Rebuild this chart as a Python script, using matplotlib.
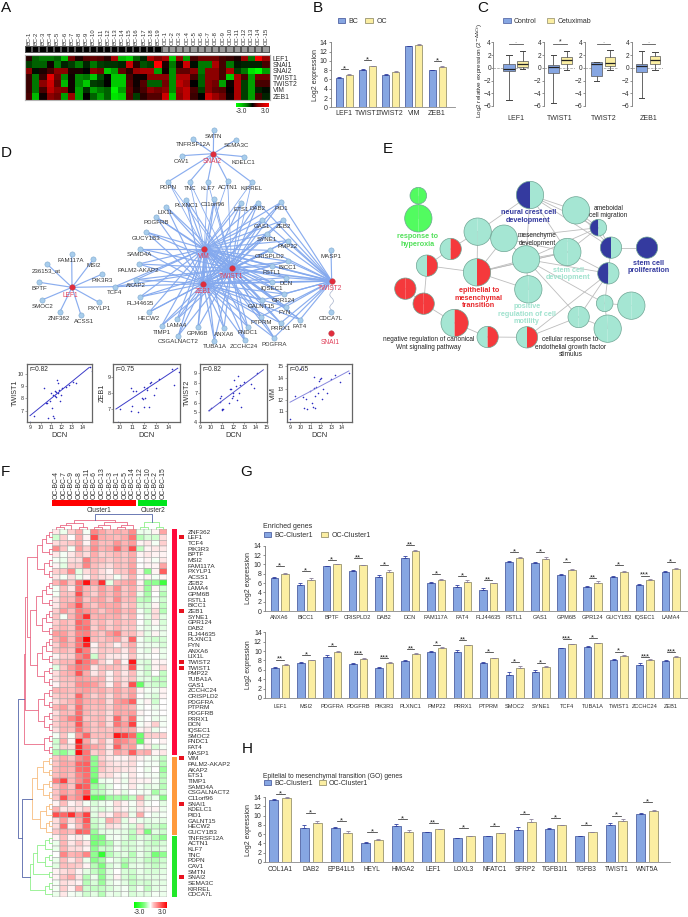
import numpy as np
import matplotlib
matplotlib.use("Agg")
import matplotlib.pyplot as plt
from matplotlib.colors import LinearSegmentedColormap
from matplotlib.patches import Patch, Wedge, Circle, Rectangle

plt.rcParams['font.family'] = ['Liberation Sans', 'DejaVu Sans']
plt.rcParams['axes.linewidth'] = 0.6
W, H = 688, 917
fig = plt.figure(figsize=(W/100, H/100), dpi=100)
ov = fig.add_axes([0, 0, 1, 1], zorder=5)
ov.set_xlim(0, W); ov.set_ylim(H, 0); ov.axis('off'); ov.patch.set_alpha(0)

def axpx(x0, y0, x1, y1, **kw):
    return fig.add_axes([x0/W, 1-y1/H, (x1-x0)/W, (y1-y0)/H], **kw)

TXT = '#2e2e2e'
BLUE, BLUE_E = '#86a6e2', '#46589c'
YEL, YEL_E = '#fbeea2', '#8f8a66'

# ---------- A ----------
a_genes = ['LEF1', 'SNAI1', 'SNAI2', 'TWIST1', 'TWIST2', 'VIM', 'ZEB1']
a_cols = [f'BC-{i}' for i in range(1, 20)] + [f'OC-{i}' for i in range(1, 16)]
a_lef1 = [.3,-.8,-1,-1,-.8,-1.8,.8,.2,.6,.7,.6,.3,1.4,-1.8,-2.2,-.8,-.3,1.5,.9, 1.4,-2,1.2,-1.5,.5,.8,.8,.8,.5,.4,.2,1.2,-1,2.8,1.2]
a_snai1 = [-.5,-.8,-.8,.1,-1,-.3,-.5,-1,-.3,-1,-.5,-.4,-.4,-.3,2,.3,-.7,-.5,3, .2,-1,.2,2,-.1,-1,-1,1.5,.5,-1,-.2,-.3,-.3,-.3,.5]
a_snai2 = [1,-.1,.2,.5,1,1,.2,.2,0,1,.8,-2,-1.5,.7,.3,1.2,1.5,1.5,-1.5, .1,-1.3,.7,.7,1,-1,1,1,.5,1.5,-.5,-1,-2.5,-3,-1.5]
a_twist1 = [.4,-1,.4,2.5,.8,-1.2,.1,-1.2,-1,-2,-.6,0,-2,-2,.5,.1,.1,1,1, 1,-1.3,1.5,1.5,.5,-.8,1,1,.5,-2,1.5,.5,-1.5,.8,.8]
a_twist2 = [.4,-1,1,2,.7,-1.8,.1,-1.2,-2,-.5,-.4,0,-2,-2,.6,.1,.6,-.8,-.8, .8,-1.3,1.8,1.2,0,-.8,1,.8,-1.5,.1,1.5,-.5,-1.5,.5,.5]
a_vim = [.4,-1,.5,1.8,1,.9,.1,-1.5,-.4,-1.5,-1,-.8,-2.8,-1.5,.7,.2,.5,1,.8, 1,-1.3,1.2,1.8,.5,-.5,1,.7,.6,0,1.5,-.5,-1.5,-.3,-.1]
a_zeb1 = [.5,-1.8,.1,1,.8,-1.5,1.2,-1.5,0,-.8,-1.5,-.8,-2.5,-2.2,.6,-.5,.3,.6,.6, 2,-2,1,1.8,.4,0,2,1.2,.8,.1,1.5,-.5,-1.5,.5,-.3]
a_vals = np.array([a_lef1, a_snai1, a_snai2, a_twist1, a_twist2, a_vim, a_zeb1])
a_group = [0]*19 + [1]*15

def nodes(stops):
    return LinearSegmentedColormap.from_list('m', [((v+3)/6, c) for v, c in stops])
gbr = nodes([(-3, '#00ff00'), (-2, '#00c800'), (-1, '#007800'), (0, '#000000'), (1, '#8c0000'), (2, '#cc0000'), (3, '#ff0000')])
gwr = nodes([(-3, '#00ff00'), (-2, '#40ff40'), (-1, '#90ff90'), (-.5, '#d0ffd0'), (0, '#ffffff'), (.5, '#ffc4c4'), (1, '#ff9c9c'), (2, '#ff5050'), (3, '#ff0000')])

ax = axpx(25, 55, 269.5, 99.5)
m = ax.pcolormesh(a_vals, cmap=gbr, vmin=-3, vmax=3, edgecolors='none')
ax.invert_yaxis()
ax.set_xticks([]); ax.yaxis.tick_right()
ax.set_yticks(np.arange(7)+.5, a_genes, fontsize=4.9, color=TXT)
ax.tick_params(axis='y', length=0, pad=2.2)
for s in ax.spines.values(): s.set_color('#b5b5b5'); s.set_linewidth(.8)
ax = axpx(25, 46, 269.5, 52.5)
ax.pcolormesh([a_group], cmap=LinearSegmentedColormap.from_list('k', ['#000000', '#9c9c9c']),
              edgecolors='#555555', linewidth=.15)
ax.xaxis.tick_top(); ax.set_yticks([])
ax.set_xticks(np.arange(34)+.5, a_cols, rotation=90, fontsize=4.2, color=TXT)
ax.tick_params(axis='x', length=0, pad=1)
for s in ax.spines.values(): s.set_visible(False)
cax = axpx(236, 102.5, 269, 107)
cb = fig.colorbar(m, cax=cax, orientation='horizontal'); cb.set_ticks([]); cb.outline.set_visible(False)
ov.text(241.5, 111.3, '-3.0', fontsize=4.8, ha='center', va='center', color=TXT)
ov.text(265, 111.3, '3.0', fontsize=4.8, ha='center', va='center', color=TXT)

# ---------- bar helper ----------
def bars(genes, bc, oc, ebc, eoc, sig, stars, xl, xr, y14, y0, start, step, bw, off,
         ylabel, ylx, lab_fs, tick_fs=5, names=('BC', 'OC'), pad=3.5, yl_fs=5, extra=1.2):
    u = (y0-y14)/14
    ytop = y14-extra*u
    ax = axpx(xl, ytop, xr, y0)
    ax.patch.set_alpha(0)
    ax.set_xlim((xl-start)/step, (xr-start)/step)
    ax.set_ylim(0, 14+extra)
    x = np.arange(len(genes))
    w, o = bw/step, off/step
    ax.bar(x-o, bc, w, color=BLUE, edgecolor=BLUE_E, linewidth=.55, label=names[0])
    ax.bar(x+o, oc, w, color=YEL, edgecolor=YEL_E, linewidth=.55, label=names[1])
    ax.errorbar(x-o, bc, yerr=[np.zeros(len(bc)), ebc], fmt='none', ecolor='#2f3f9f', elinewidth=.5, capsize=1.3, capthick=.6)
    ax.errorbar(x+o, oc, yerr=[np.zeros(len(oc)), eoc], fmt='none', ecolor='#8a8098', elinewidth=.5, capsize=1.3, capthick=.6)
    for i, (s, t) in enumerate(zip(sig, stars)):
        ax.plot([i-.15, i+.15], [s, s], color='#333333', lw=.55, clip_on=False)
        ax.text(i, s+.05, t, ha='center', va='center', fontsize=5.5, color='#222222', clip_on=False)
    ax.set_xticks(x, genes, fontsize=lab_fs, color=TXT)
    ax.set_yticks(range(0, 15, 2))
    ax.tick_params(axis='x', length=0, pad=pad)
    ax.tick_params(axis='y', length=1.5, width=.5, labelsize=tick_fs, pad=1, labelcolor=TXT, color='#666666')
    for s in ('top', 'right'): ax.spines[s].set_visible(False)
    ax.spines['left'].set_bounds(0, 14)
    ax.spines['left'].set_color('#777777'); ax.spines['bottom'].set_color('#888888')
    ov.text(ylx, (y0+y14)/2, ylabel, rotation=90, fontsize=yl_fs, ha='center', va='center', color=TXT)
    return ax

def legend(ax, x, y, fs, hl, ht=.75, tp=.5, cs=1.0):
    ax.legend(loc='lower left', bbox_to_anchor=(x, y), bbox_transform=ov.transData, ncol=2,
              frameon=False, fontsize=fs, handlelength=hl, handleheight=ht, handletextpad=tp,
              columnspacing=cs, borderpad=0, borderaxespad=0, labelcolor=TXT)

# ---------- B ----------
b_genes = ['LEF1', 'TWIST1', 'TWIST2', 'VIM', 'ZEB1']
b_bc = [6.4, 8.1, 7.0, 13.1, 8.0]
b_oc = [7.0, 8.9, 7.7, 13.5, 8.7]
b_ebc = [.12, .15, .15, .12, .12]
b_eoc = [.1, .1, .15, .15, .12]
b_sig = [8.2, 10.1, np.nan, np.nan, 9.9]
b_star = ['*', '*', '', '', '*']
ax = bars(b_genes, b_bc, b_oc, b_ebc, b_eoc, b_sig, b_star, 331, 454.5, 42.3, 107.3, 344.3, 23.2, 7, 5,
          'Log2 expression', 320.0-4.5, 5, 5)
legend(ax, 338, 25, 5, 1.05)
ax.xaxis.set_tick_params(pad=2.2)

# ---------- C ----------
c_genes = ['LEF1', 'TWIST1', 'TWIST2', 'ZEB1']
c_ctrl = [(-5, -.55, -.15, .6, 2), (-5.5, -.85, .05, .45, 2), (-2, -1.25, .6, .85, .9), (-4.7, -.6, .3, .6, 2.6)]
c_cetu = [(-.2, .15, .6, 1.1, 2.7), (-.4, .6, 1.2, 1.65, 2.7), (-.3, .3, .75, 1.7, 2.75), (-.4, .55, 1.2, 1.85, 2.55)]
c_star = ['·', '*', '·', '·']
c_px = [(493.3, 509, 522.5, 529), (544, 553.3, 566.7, 575), (585, 596.7, 610, 618), (632, 641.7, 655, 663)]
for g, ct, ce, st, (sx, c0, c1, end) in zip(c_genes, c_ctrl, c_cetu, c_star, c_px):
    ax = axpx(sx, 42.3, end, 106)
    ax.patch.set_alpha(0)
    step = c1-c0
    ax.set_xlim((sx-c0)/step, (end-c0)/step); ax.set_ylim(-6, 4)
    ax.axhline(0, color='#999999', lw=.5, ls='--', zorder=0)
    stats = [dict(whislo=v[0], q1=v[1], med=v[2], q3=v[3], whishi=v[4], fliers=[]) for v in (ct, ce)]
    b = ax.bxp(stats, positions=[0, 1], widths=.82, patch_artist=True, showfliers=False,
               medianprops=dict(color='#222222', lw=.9),
               whiskerprops=dict(color='#666666', lw=.7), capprops=dict(color='#444444', lw=.7),
               boxprops=dict(edgecolor='#555555', lw=.5), manage_ticks=False)
    b['boxes'][0].set_facecolor(BLUE); b['boxes'][1].set_facecolor(YEL)
    ax.plot([0, 1], [3.75, 3.75], color='#555555', lw=.6, clip_on=False)
    ax.text(.5, 4.0, st, ha='center', va='center', fontsize=5 if st == '*' else 4.5, color='#222222', clip_on=False)
    ax.set_xticks([.5], [g], fontsize=5, color=TXT)
    ax.set_yticks(range(-6, 5, 2))
    ax.tick_params(axis='x', length=0, pad=6.6)
    ax.tick_params(axis='y', length=1.1, width=.5, labelsize=4.8, pad=.6, labelcolor=TXT, color='#666666')
    for s in ('top', 'right', 'bottom'): ax.spines[s].set_visible(False)
    ax.spines['left'].set_color('#777777')
    if g == 'LEF1':
        ax.legend([Patch(facecolor=BLUE, edgecolor=BLUE_E, lw=.5), Patch(facecolor=YEL, edgecolor=YEL_E, lw=.5)],
                  ['Control', 'Cetuximab'], loc='lower left', bbox_to_anchor=(503.3, 25.3),
                  bbox_transform=ov.transData, ncol=2, frameon=False, fontsize=5, handlelength=1.05, handleheight=.75,
                  handletextpad=.5, columnspacing=1.4, borderpad=0, borderaxespad=0, labelcolor=TXT)
ov.text(479.5, 70, r'Log2 relative expression (2$^{-\Delta\Delta Ct}$)', rotation=90, fontsize=4.6, ha='center', va='center', color=TXT)

# ---------- D network ----------
d_lef = {'TCF4': (344,485,344,503), 'FAM117A': (215,388,213,407), 'MSI2': (280,403,280,422), '236153_at': (142,418,138,436),
         'PIK3R3': (307,447,307,465), 'BPTF': (118,472,118,490), 'PXYLP1': (297,532,298,550), 'SMOC2': (126,525,127,543),
         'ZNF362': (179,562,177,581), 'ACSS1': (243,570,251,589)}
d_sn2 = {'SMTN': (641,16,641,34), 'TNFRSF12A': (578,42,579,60), 'SEMA3C': (708,44,708,61), 'CAV1': (546,92,545,110),
         'KDELC1': (733,95,731,114)}
d_sn2b = {'PDPN': (505,170,505,188), 'TNC': (569,170,569,189), 'KLF7': (623,170,624,190), 'ACTN1': (683,169,683,188),
          'KIRREL': (755,172,755,191)}
d_left = {'PLXNC1': (559,224,558,242), 'C11orf96': (643,222,639,240), 'LIX1L': (499,245,498,264), 'PDGFRB': (468,276,469,294),
          'GUCY1B3': (438,321,438,339), 'SAMD4A': (419,371,418,390), 'PALM2-AKAP2': (416,417,415,435), 'AKAP2': (409,464,409,482),
          'FLJ44635': (420,516,420,535), 'HECW2': (448,561,447,580), 'TIMP1': (485,602,485,621), 'LAMA4': (531,583,530,601),
          'CSGALNACT2': (535,632,536,650), 'GPM6B': (594,607,593,625), 'TUBA1A': (643,647,643,665), 'ANXA6': (672,609,672,627),
          'FNDC1': (743,605,743,624), 'ZCCHC24': (734,646,733,665), 'ETS1': (723,235,723,253)}
d_right = {'PDGFRA': (822,638,822,657), 'PTPRM': (783,575,785,594), 'PRRX1': (842,594,841,612), 'FAT4': (900,584,899,603),
           'FYN': (857,545,853,563), 'GALNT15': (786,525,785,543), 'GPR124': (852,507,852,525), 'IQSEC1': (815,472,815,490),
           'DCN': (858,458,858,476), 'FSTL1': (815,423,814,441), 'BICC1': (864,409,862,428), 'CRISPLD2': (810,376,810,394),
           'PMP22': (864,347,862,365), 'SYNE1': (800,326,800,344), 'ZEB2': (850,286,850,304), 'GAS1': (787,285,787,303),
           'PID1': (843,232,843,250), 'DAB2': (774,233,774,251)}
d_tw2 = {'MASP1': (993,376,993,393)}
d_wavy = {'CDCA7L': (993,561,992,579)}
d_hubs = {'SNAI2': (640,86,636,109), 'VIM': (613,371,611,395), 'TWIST1': (695,430,693,454), 'ZEB1': (610,476,608,500),
          'TWIST2': (995,468,990,492), 'LEF1': (216,487,212,511), 'SNAI1': (993,625,992,651)}
def D(x, y): return x/3, 125+y/3
ECOL = '#84a9ee'
def link(a, b, lw=.85, c=ECOL, al=.95):
    (x0, y0), (x1, y1) = D(*a[:2]), D(*b[:2])
    ov.plot([x0, x1], [y0, y1], color=c, lw=lw, alpha=al, zorder=1, solid_capstyle='round')
for g, p in d_lef.items(): link(p, d_hubs['LEF1'])
for g, p in {**d_sn2, **d_sn2b}.items(): link(p, d_hubs['SNAI2'])
mid = ['VIM', 'TWIST1', 'ZEB1']
for p in d_sn2b.values():
    for h in ('VIM', 'TWIST1'): link(p, d_hubs[h], .6)
for p in [*d_left.values(), d_lef['TCF4']]:
    for h in mid: link(p, d_hubs[h])
for p in d_right.values():
    for h in mid + ['TWIST2']: link(p, d_hubs[h])
for h in ('VIM', 'TWIST1', 'ZEB1'):
    for k in ('VIM', 'TWIST1', 'ZEB1', 'TWIST2'):
        link(d_hubs[h], d_hubs[k], 1.2)
link(d_tw2['MASP1'], d_hubs['TWIST2'])
wy = np.arange(468, 562, 6)
ov.plot(*D(995 + 6*np.cos(wy/6.0), wy), color='#a9b4cc', lw=.5, zorder=1)
for grp in (d_lef, d_sn2, d_sn2b, d_left, d_right, d_tw2, d_wavy):
    for g, (x, y, lx, ly) in grp.items():
        ov.scatter(*D(x, y), s=14, c='#a8cdec', edgecolors='#7ea8cf', linewidths=.4, zorder=3)
        ov.text(*D(lx, ly), g, fontsize=4.4, ha='center', va='center', color='#333333', zorder=4)
for g, (x, y, lx, ly) in d_hubs.items():
    ov.scatter(*D(x, y), s=16, c='#e22c3c', edgecolors='#b5404a', linewidths=.3, zorder=3)
    ov.text(*D(lx, ly), g, fontsize=4.8, ha='center', va='center', color='#e0405a', zorder=4)

# ---------- D scatter ----------
s1_dcn = [9.0,9.4,10.3,10.5,10.6,10.7,10.9,11.0,11.1,11.2,11.2,11.3,11.4,11.4,11.5,11.5,11.6,11.7,11.7,11.8,11.9,12.0,12.1,12.4,12.7,13.1,13.4,14.7,14.9]
s1_tw = [6.1,6.6,8.8,7.6,7.6,6.4,7.8,8.4,7.2,6.6,8.3,6.4,8.6,8.2,8.5,8.1,9.5,8.4,9.2,8.7,7.8,8.3,8.8,8.9,9.1,9.3,9.2,10.5,10.2]
s2_dcn = [9.8,10.0,10.9,10.9,11.0,11.1,11.3,11.5,11.8,11.9,12.0,12.0,12.1,12.2,12.2,12.4,12.5,12.6,12.8,13.0,13.2,14.3,14.5,14.9]
s2_ze = [6.2,7.0,6.9,8.3,7.2,8.1,8.1,6.8,7.7,7.6,7.1,8.4,7.7,8.3,8.2,7.1,8.6,8.7,7.9,8.3,8.9,9.5,8.5,9.3]
s3_dcn = [9.8,10.0,10.8,10.8,10.9,11.0,11.0,11.1,11.6,11.7,11.8,11.9,12.0,12.0,12.1,12.2,12.3,12.4,12.5,12.6,12.7,13.0,13.6,13.9,14.1]
s3_tw = [5.2,5.5,6.1,6.5,6.7,5.2,5.3,5.3,6,7.4,7.4,6.5,7,6.7,8.3,7.7,6.3,8.7,7,7.8,5.6,8.1,7.9,7.5,9]
s4_dcn = [9.0,9.5,10.3,10.4,10.5,10.6,10.9,11.1,11.2,11.3,11.4,11.4,11.5,11.7,11.8,11.9,12.0,12.1,12.2,12.6,13.0,13.4,13.8,14.7,10.0,11.3]
s4_vim = [10.3,12.4,12.3,11.3,12.1,11.2,12.8,11.7,11.4,13.1,12.4,11.3,13.2,12.6,13.7,13.9,14.0,12.1,13.0,12.6,13.9,14.2,13.6,14.4,14.8,14.1]
s_panels = [
  ('TWIST1', 'r=0.82', s1_dcn, s1_tw, (9, 14.66), (6.6, 10.5), (26.7, 92.3), (8.68, 14.95), (6.06, 10.8), [9,10,11,12,13,14], [7,8,9,10], 15, '#3b3bc8'),
  ('ZEB1', 'r=0.75', s2_dcn, s2_ze, (9.67, 14.77), (7, 9.55), (113.3, 180.3), (9.45, 14.98), (6.17, 9.83), [10,11,12,13,14], [7,8,9], 102, '#3b3bc8'),
  ('TWIST2', 'r=0.82', s3_dcn, s3_tw, (9.79, 14.7), (5.16, 9.33), (200, 266.7), (9, 15), (4, 9.95), [9,10,11,12,13,14,15], [4,5,6,7,8,9], 187, '#5555cc'),
  ('VIM', 'r=0.65', s4_dcn, s4_vim, (9, 14.7), (11.8, 14.6), (286.7, 351.7), (8.68, 14.97), (10.0, 15.25), [9,10,11,12,13,14], [11,12,13,14,15], 273, '#8888dd'),
]
for name, rt, xs, ys, lx, ly, (px0, px1), xlim, ylim, xt, yt, ylx, lc in s_panels:
    ax = axpx(px0, 363.7, px1, 422.3)
    ax.scatter(xs, ys, s=1.3, c='#2a2ac0', linewidths=0)
    ax.plot(lx, ly, color=lc, lw=.7)
    ax.set_xlim(xlim); ax.set_ylim(ylim)
    ax.set_xticks(xt); ax.set_yticks(yt)
    ax.tick_params(length=1.2, width=.4, labelsize=3.9, pad=.8, labelcolor=TXT, color='#666666')
    for s in ax.spines.values(): s.set_color('#666666'); s.set_linewidth(.9)
    ax.text(.04, .9, rt, transform=ax.transAxes, fontsize=4.8, va='center', color=TXT)
    ax.set_xlabel('DCN', fontsize=5.4, labelpad=1.2, color=TXT)
    ov.text(ylx, 393, name, rotation=90, fontsize=5.2, ha='center', va='center', color=TXT)

# ---------- E ----------
TEAL, RED, NAVY, GRN = '#a5e6d3', '#f5393c', '#343a9f', '#52fb60'
e_nodes = [(205,197,25,GRN,GRN),(205,265,41,GRN,GRN),(540,195,41,NAVY,TEAL),(678,241,41,TEAL,TEAL),(745,293,25,NAVY,TEAL),
           (783,353,32,NAVY,TEAL),(891,353,32,NAVY,NAVY),(775,430,32,NAVY,TEAL),(383,305,41,TEAL,TEAL),(462,325,40,TEAL,TEAL),
           (528,388,41,TEAL,TEAL),(652,366,41,TEAL,TEAL),(535,478,41,TEAL,TEAL),(764,520,25,TEAL,TEAL),(844,527,41,TEAL,TEAL),
           (686,561,32,TEAL,TEAL),(773,596,41,TEAL,TEAL),(302,357,32,TEAL,RED),(231,407,32,TEAL,RED),(381,427,41,TEAL,RED),
           (314,579,41,TEAL,RED),(413,621,32,TEAL,RED),(531,622,32,TEAL,RED),(166,476,32,RED,RED),(221,521,32,RED,RED)]
e_edges = [(0,1),(2,3),(2,4),(2,5),(2,8),(2,11),(3,4),(3,5),(4,5),(4,11),(4,9),(5,6),(5,7),(7,11),(8,19),(8,9),(9,10),(9,11),(9,19),
           (10,19),(10,11),(10,12),(10,7),(10,15),(11,19),(12,19),(7,13),(7,15),(7,22),(13,14),(13,16),(15,16),(15,22),(21,22),(20,21),
           (24,20),(23,24),(18,24),(18,17),(18,19),(17,8),(10,13),(2,10),(19,11),(10,4)]
e_bold = [('response to\nhyperoxia',203,332,'#52e05a'),('neural crest cell\ndevelopment',535,260,NAVY),('stem cell\nproliferation',895,411,NAVY),
          ('stem cell\ndevelopment',655,432,'#a0e2ce'),('epithelial to\nmesenchymal\ntransition',386,505,'#e8282c'),
          ('positive\nregulation of cell\nmotility',530,553,'#a0e2ce')]
e_plain = [('ameboidal\ncell migration',775,246),('mesenchyme\ndevelopment',561,328),
           ('negative regulation of canonical\nWnt signaling pathway',235,641),
           ('cellular response to\nendothelial growth factor\nstimulus',661,652)]
def E(x, y): return 350+x/3, 130+y/3
for a, b in e_edges:
    xa, ya = E(*e_nodes[a][:2]); xb, yb = E(*e_nodes[b][:2])
    ov.plot([xa, xb], [ya, yb], color='#bdbdbd', lw=.6, zorder=1)
for (x, y, r, cl, cr) in e_nodes:
    cx, cy = E(x, y); rr = r/3
    ov.add_patch(Wedge((cx, cy), rr, 90, 270, facecolor=cl, edgecolor='none', zorder=2))
    ov.add_patch(Wedge((cx, cy), rr, 270, 450, facecolor=cr, edgecolor='none', zorder=2))
    ov.add_patch(Circle((cx, cy), rr, fill=False, edgecolor='#6fa594', lw=.5, zorder=2.1))
for t, x, y, c in e_bold:
    ov.text(*E(x, y), t, fontsize=5.2, fontweight='bold', color=c, ha='center', va='center', linespacing=1.1, zorder=4)
for t, x, y in e_plain:
    ov.text(*E(x, y), t, fontsize=4.7, color='#222222', ha='center', va='center', linespacing=1.1, zorder=4)

# ---------- F ----------
f_cols = ['OC-BC-4','OC-BC-7','OC-BC-9','OC-BC-8','OC-BC-11','OC-BC-6','OC-BC-13','OC-BC-3','OC-BC-1','OC-BC-5','OC-BC-14','OC-BC-12','OC-BC-10','OC-BC-2','OC-BC-15']
f_genes = ['ZNF362','LEF1','TCF4','PIK3R3','BPTF','MSI2','FAM117A','PXYLP1','ACSS1','ZEB2','LAMA4','GPM6B','FSTL1','BICC1','ZEB1','SYNE1','GPR124','DAB2','FLJ44635','PLXNC1','FYN','ANXA6','LIX1L','TWIST2','TWIST1','PMP22','TUBA1A','GAS1','ZCCHC24','CRISPLD2','PDGFRA','PTPRM','PDGFRB','PRRX1','DCN','IQSEC1','SMOC2','FNDC1','FAT4','MASP1','VIM','PALM2-AKAP2','AKAP2','ETS1','TIMP1','SAMD4A','CSGALNACT2','C11orf96','SNAI1','KDELC1','PID1','GALNT15','HECW2','GUCY1B3','TNFRSF12A','ACTN1','KLF7','TNC','PDPN','CAV1','SMTN','SNAI2','SEMA3C','KIRREL','CDCA7L']
f_vals = [
[.2,-.2,.4,.8,-.1,1.3,.9,.6,.8,.7,1.2,-.2,-.2,.1,.9],[-.5,.4,0,.8,.1,2,.8,.7,.6,.8,1.5,-.7,-.4,-.5,.3],[.3,.4,.5,.8,.1,1,.6,.6,1.1,.7,1,.1,.2,-.1,.4],
[1.2,.5,-.1,1,.4,1.2,.7,.8,1.6,.8,2,-.6,.1,.2,.2],[.2,-.1,.2,.5,.3,.8,.4,.5,.7,.5,.8,.1,.2,.1,.1],[-.1,-.2,.3,.3,1.4,.7,.6,.4,.6,.5,.8,0,.1,-.1,.2],
[.1,-.3,.4,.4,1.3,.6,.4,.3,.6,.5,.9,0,.1,.1,.9],[.4,.5,1.2,-.3,.3,.6,.3,.1,.5,.5,1,.1,-1,.1,1.8],[.2,-.1,.3,-.2,.1,.5,.3,.2,-.1,.3,.7,0,.1,-.1,.1],
[.7,1.2,.5,1.6,2.8,1,2.4,-.3,.7,.8,1,.1,-1,-1,-2],[-.1,.6,.2,1.5,.7,.5,1,.6,1.2,.5,.8,.2,-.9,.1,-.5],[-.1,.6,.5,2,.7,.4,.9,.6,1,.5,.8,-.2,-.8,0,-.7],
[.2,.7,.6,1.4,.5,.8,.9,.5,1.2,.6,.7,-.6,-.7,-.1,-.5],[.2,.7,1,1.9,.8,.5,.9,.8,.9,.4,.6,-.4,-.4,.1,-.6],[.4,1,.6,1.4,1.1,.8,.5,.8,1,.6,.8,-.1,-.5,.3,-.7],
[.5,-.1,.7,1.4,2.4,.7,.8,.7,.8,.4,.7,0,-.3,.3,-.3],[.4,.7,.5,1.7,1.4,.5,.7,.4,.7,.5,.6,0,-.4,.1,-.4],[.5,.7,.5,1.6,1.6,.4,.8,.4,.7,.4,.5,-.1,-.3,-.1,-.3],
[1,1,.6,1.3,1.4,.7,.5,1,1.4,.5,.6,.2,-.3,.1,-.2],[.7,1.2,.6,1.6,3,.6,.5,.7,.9,.3,1.7,-.1,-.4,-.5,-.4],[.4,1,.7,1.5,2.6,.1,.6,.4,.1,.4,.8,-.1,-.2,-.2,-.4],
[.5,.7,.5,2,1.4,.2,.5,.4,.5,.2,.7,-.1,-.3,.1,-.2],[.1,.4,.4,1.3,1.7,-.5,.5,.2,.2,.1,.5,-.1,-.1,0,-.2],[.4,.7,.7,2.1,1.5,1,.4,.1,.8,.1,2.7,-.3,-.4,.1,.1],
[-.3,.5,1,1.5,1.4,.2,.6,.6,.6,.3,1.9,-.2,-.5,.1,.3],[.3,.7,.8,1.9,.8,.2,.5,.1,.5,.2,.6,-.2,-.5,0,-.6],[.3,.6,.6,1,.9,.7,.7,.1,.5,.3,.5,-.3,-.3,-.6,-.6],
[.1,.5,.5,1.2,1.2,1,.6,.1,.8,.3,2,-1.5,-.4,-.5,-.6],[.7,.7,.6,.9,1,.7,.8,.5,.9,.6,.9,.1,-.1,-.2,.1],[.4,.6,.5,1.7,.8,.4,.7,.3,.8,.5,1,0,-.2,-.4,.1],
[.3,.5,.7,1.3,.8,.7,.8,.3,1,1.2,1.8,-.1,.1,-.5,0],[.7,1,.5,1.6,.7,.6,.7,.4,.9,.8,.7,-.1,0,-.2,0],[.3,.7,.6,1.6,.7,.5,.6,.3,.9,.8,1,.1,0,-.1,0],
[.4,.8,1.3,1.8,.5,.6,.7,.3,1.7,.7,1.6,-.1,0,-.2,-.1],[.4,.7,.7,1.9,.8,.5,.8,.3,1.5,1,2.2,-.1,.1,.4,-.1],[.3,.7,.6,1.5,.8,.5,.6,.5,.9,.8,.8,.1,.2,-.2,0],
[-.1,.5,-.1,1,1.7,.6,.6,.6,2.7,2.2,1.7,-1.4,.4,.4,.4],[-.5,.8,.1,2.7,.9,.3,.7,.2,1.4,1.2,.9,-1.5,.1,0,.1],[-.4,.4,.3,2.4,1.3,.9,.7,.2,1.8,.8,1,-.1,.2,-.4,-.1],
[-.8,-1,-.6,2.8,1.5,.4,.6,.2,.9,.7,1.8,.7,.8,.1,.2],
[.5,.8,.5,1.2,1.5,-1,.4,.2,.1,.1,.3,.1,-.1,-.2,-.6],[.5,.9,.8,1.7,1.8,-1,.6,.3,.2,.2,.3,0,-.1,-.1,-.7],[.6,.8,.7,1.6,1.7,-1.2,.5,.3,.3,.2,.2,0,-.2,0,-.9],
[.6,.8,.6,1.3,1.6,-1.2,.3,.3,.1,-.1,.2,0,-.1,-.1,-.7],[1.4,2.2,.6,1.2,1.7,-1.6,-.2,-.1,.1,-.2,.2,.1,.1,-.1,-.6],[.5,1,.5,2,1.8,-.9,-.6,-.3,0,-.1,.2,-.1,-.3,-.2,-.7],
[.5,1,.7,1.2,1.8,-.7,-.6,-.2,.1,-.3,0,-.1,-.1,-.8,-.4],[.5,2,.9,1.2,2.9,-1.6,-1.6,-.9,-.8,-.9,-.6,.7,-.4,-.2,-1.1],[.1,.6,.1,.3,-.1,-.4,-.2,-.1,.3,.1,-.1,.3,-.1,0,-.3],
[.7,.2,.3,.2,.4,-.3,-.4,-.2,.2,.1,-.2,.2,.1,.1,-.2],[2,1.7,2.4,1.2,2.2,-.3,.2,.1,.6,.4,-.2,.8,0,-.2,-.1],[.3,1,.3,.8,1.9,-.5,-.3,.8,.5,-.3,.1,-.2,-.3,-.2,-.3],
[.3,1.6,.1,.6,1.6,-.6,-.3,.3,.2,-.2,-.4,.3,-.4,-.5,-.7],[.5,.8,.6,1.8,1.6,-.9,-.3,-.2,-.2,-.3,-.6,.3,-1.2,-.3,-.5],
[.1,.6,.1,.2,-.1,-1.2,-1.2,-.2,-.1,-.3,-.7,-.3,-.4,-.7,-1],[-.2,.7,.2,.5,.2,-1.3,-1,-.7,-.2,-.5,-.4,-.2,-.5,-.6,-.4],[-.2,.7,.3,.3,.1,-1,-.5,-.5,-.1,-.4,-.4,-.2,-.4,-.4,-.3],
[0,1.3,.7,.8,1.3,-1,-2.2,-.7,-.4,-.3,-.7,-.2,-.5,-1.3,-1],[-.2,.6,.2,.5,-.2,-1.1,-.8,-.1,-.3,-.7,-.5,-.3,-.6,-.7,-.5],[-.3,.6,.5,.4,.1,-.7,-1.2,-.4,-.2,-.9,-.3,-.2,-.4,-.6,-.4],
[.1,.3,.4,.1,-.3,-.6,-.9,-.3,0,-.4,-.5,-.2,-.4,-.4,-.3],[.1,.5,.8,.2,-.7,-.2,-1,-.3,.1,-.4,-.6,-.3,-.3,-.3,-.2],[-.1,.3,.2,.1,-.7,-.4,-.9,-.3,-.1,-.3,-.6,-.4,-.5,-.3,-.3],
[-.1,.4,.1,.8,-.5,-.6,-.6,-.4,-.2,-.1,-.5,-.1,-.6,-.3,-.2],[-.2,.2,-.1,-.2,-.5,-.3,-.7,-.2,-.3,-.1,-.4,-.3,-.3,-.1,-.2]]
f_marked = ['LEF1', 'ZEB1', 'TWIST2', 'TWIST1', 'VIM', 'SNAI1', 'SNAI2']
f_x0, f_x1, f_y0, f_y1 = 52.3, 167, 529, 897
ax = axpx(f_x0, f_y0, f_x1, f_y1)
m2 = ax.pcolormesh(np.array(f_vals), cmap=gwr, vmin=-3, vmax=3, edgecolors='#a8a8a8', linewidth=.4, antialiased=True, snap=False)
ax.invert_yaxis()
ax.set_xticks([]); ax.yaxis.tick_right()
ax.set_yticks(np.arange(65)+.5, f_genes, fontsize=4.6, color=TXT)
ax.tick_params(axis='y', length=0, pad=15)
for s in ax.spines.values(): s.set_visible(False)
rowh = (f_y1-f_y0)/65; colw = (f_x1-f_x0)/15
ax = axpx(f_x0, 500, f_x1, 506)
ax.set_xlim(0, 15); ax.set_ylim(0, 1)
ax.barh(.5, 11, height=1, left=0, color='#ff0000', edgecolor='none')
ax.barh(.5, 3.8, height=1, left=11.2, color='#00e51c', edgecolor='none')
ax.xaxis.tick_top(); ax.set_yticks([])
ax.set_xticks(np.arange(15)+.5, f_cols, rotation=90, fontsize=4.9, color=TXT)
ax.tick_params(axis='x', length=0, pad=1)
for s in ax.spines.values(): s.set_visible(False)
ov.text(99, 510, 'Cluster1', fontsize=4.8, ha='center', va='center', color=TXT)
ov.text(153, 510, 'Cluster2', fontsize=4.8, ha='center', va='center', color=TXT)
for (a, b, c) in [(529, 755, '#ff0a3c'), (757, 835, '#ff9a3c'), (836, 897, '#22e82a')]:
    ov.add_patch(Rectangle((172, a), 5, b-a, facecolor=c, edgecolor='none'))
for g in f_marked:
    i = f_genes.index(g)
    ov.add_patch(Rectangle((179, f_y0+(i+.5)*rowh-2), 5, 4, facecolor='#e8121f', edgecolor='none'))
cax = axpx(134, 902, 167, 908)
cb = fig.colorbar(m2, cax=cax, orientation='horizontal'); cb.set_ticks([]); cb.outline.set_visible(False)
ov.text(139, 913, '-3.0', fontsize=4.8, ha='center', va='center', color=TXT)
ov.text(162.5, 913, '3.0', fontsize=4.8, ha='center', va='center', color=TXT)

def bal(n):
    if n == 1: return None
    a = (n+1)//2
    return (n, bal(a), bal(n-a))
def group(*parts):
    nodes_ = [p if isinstance(p, tuple) else bal(p) for p in parts]
    t = nodes_[0]
    for q in nodes_[1:]:
        t = (t[0]+q[0], t, q)
    return t
def dendro(node, start, size, base, k, color, mapper, lw=.6):
    if node is None:
        return start+size/2, 0.0, 1
    n = node[0]
    c1, h1, n1 = dendro(node[1], start, size, base, k, color, mapper, lw)
    c2, h2, n2 = dendro(node[2], start+n1*size, size, base, k, color, mapper, lw)
    h = base+k*(np.log2(n)-1)
    h = max(h, max(h1, h2)+.6)
    xs = [h1, h, h, h2]; ys = [c1, c1, c2, c2]
    px, py = mapper(np.array(xs), np.array(ys))
    ov.plot(px, py, color=color, lw=lw, zorder=2)
    return (c1+c2)/2, h, n
row_map = lambda h, c: (f_x0-h, c)
col_map = lambda h, c: (c, 528.5-h)
PINK, ORNG, LGRN, DBLUE = '#ea6a86', '#f7bd80', '#8ff08a', '#5464a8'
cp, hp, _ = dendro(group(group(9, 19), 8, 4), f_y0, rowh, 3, 5.8, PINK, row_map)
co, ho, _ = dendro(group(8, 6), f_y0+40*rowh, rowh, 3, 6.0, ORNG, row_map)
cg, hg, _ = dendro(group(6, 2, 3), f_y0+54*rowh, rowh, 3, 8.0, LGRN, row_map)
cm = (co+cg)/2
ov.plot(f_x0-np.array([ho, 30, 30, hg]), [co, co, cg, cg], color=DBLUE, lw=.6, zorder=2)
ov.plot(f_x0-np.array([hp, 34, 34, 30]), [cp, cp, cm, cm], color=DBLUE, lw=.6, zorder=2)
c1, h1, _ = dendro(group(5, 6), f_x0, colw, 1.5, 2.9, PINK, col_map)
c2, h2, _ = dendro(bal(4), f_x0+11*colw, colw, 2.0, 5, LGRN, col_map)
ov.plot([c1, c1, c2, c2], 528.5-np.array([h1, 14.5, 14.5, h2]), color=DBLUE, lw=.6, zorder=2)

# ---------- G ----------
g1_genes = ['ANXA6','BICC1','BPTF','CRISPLD2','DAB2','DCN','FAM117A','FAT4','FLJ44635','FSTL1','GAS1','GPM6B','GPR124','GUCY1B3','IQSEC1','LAMA4']
g1_bc = [7.0,5.6,9.6,8.6,7.3,11.3,6.1,5.1,4.6,10.5,10.2,7.7,5.1,7.3,5.6,8.3]
g1_oc = [7.9,6.7,10,9.8,8.4,12.8,6.6,6.2,5.9,11.4,11.2,8.8,6.1,8.3,6.7,9]
g1_ebc = [.2,.3,.1,.2,.5,.4,.15,.5,.25,.2,.4,.3,.2,.15,.15,.2]
g1_eoc = [.2,.3,.1,.15,.3,.25,.2,.4,.15,.2,.3,.25,.25,.2,.1,.3]
g1_sig = [9.64,8.6,10.9,11.3,9.9,14.07,7.9,7.5,6.6,12.6,12.6,10.6,7,9.8,7.6,10.4]
g1_star = ['*','*','*','**','*','**','*','*','**','*','*','*','**','*','***','*']
ax = bars(g1_genes, g1_bc, g1_oc, g1_ebc, g1_eoc, g1_sig, g1_star, 265, 688, 545.7, 611, 279.7, 26.07, 7.5, 5.3,
          'Log2 expression', 248, 4.1, 5, ('BC-Cluster1', 'OC-Cluster1'), 3)
legend(ax, 264, 539, 5, 1.05, .8, .5, 1.1)
ov.text(263, 527, 'Enriched genes', fontsize=5, va='center', color=TXT)

g2_genes = ['LEF1','MSI2','PDGFRA','PDGFRB','PIK3R3','PLXNC1','PMP22','PRRX1','PTPRM','SMOC2','SYNE1','TCF4','TUBA1A','TWIST1','ZCCHC24','ZEB1']
g2_bc = [6.4,7.5,8.8,7.3,6.3,7.8,9.8,9.9,7.4,5,5.5,10.6,10.9,8,7.1,7.9]
g2_oc = [7.1,8.1,9.9,8.3,7.5,9.3,10.6,11.2,8.5,6.3,6.6,11.5,11.7,9,8.2,8.8]
g2_ebc = [.1,.1,.3,.1,.2,.4,.3,.4,.2,.6,.4,.1,.2,.3,.3,.3]
g2_eoc = [.1,.1,.2,.15,.1,.2,.2,.2,.1,.5,.2,.05,.1,.15,.1,.15]
g2_sig = [8.2,9.2,11,9.4,8.6,10.4,11.4,12.4,9.7,7.7,7.5,12.65,12.8,9.9,8.8,9.8]
g2_star = ['**','*','*','***','***','**','*','**','*','*','*','***','*','*','***','***']
bars(g2_genes, g2_bc, g2_oc, g2_ebc, g2_eoc, g2_sig, g2_star, 265.3, 688, 632.3, 698, 280.2, 26.05, 7.5, 5.3,
     'Log2 expression', 248, 4.1, 5, ('BC-Cluster1', 'OC-Cluster1'), 4.5, 4.8)

# ---------- H ----------
h_genes = ['COL1A1','DAB2','EPB41L5','HEYL','HMGA2','LEF1','LOXL3','NFATC1','SFRP2','TGFB1I1','TGFB3','TWIST1','WNT5A']
h_bc = [13.4,7.4,7.4,4.1,7.7,6.4,5.1,5.6,7,7.2,5.6,8,10.3]
h_oc = [13.8,8.5,6.2,4.7,6.4,7.1,5.6,6.2,8.7,7.9,6.4,8.9,11]
h_ebc = [.2,.6,.2,.15,.5,.1,.1,.1,.5,.15,.1,.4,.15]
h_eoc = [.1,.4,.4,.3,.4,.1,.1,.1,.5,.1,.1,.3,.3]
h_sig = [14.65,10.5,8.76,6.4,9.2,8.3,7.25,7.7,10.4,9.4,7.9,10,12.85]
h_star = ['*','*','*','*','*','**','*','*','*','*','*','*','*']
ax = bars(h_genes, h_bc, h_oc, h_ebc, h_eoc, h_sig, h_star, 265, 670, 797, 862, 280.3, 30.57, 9, 6.4,
          'Log2 expression', 248, 4.7, 5, ('BC-Cluster1', 'OC-Cluster1'), 3, 5, 1.6)
legend(ax, 264, 787, 5, 1.05, .8, .4, .9)
ov.text(263, 776, 'Epitelial to mesenchymal transition (GO) genes', fontsize=4.8, va='center', color=TXT)

# ---------- panel letters ----------
for t, x, y in [('A',1,8),('B',313,8),('C',477,8),('D',1,153),('E',383,149),('F',1,472.5),('G',240,472.5),('H',242,749)]:
    ov.text(x, y, t, fontsize=11, va='center', ha='left', color='#111111')

fig.savefig('out.png', dpi=100)
